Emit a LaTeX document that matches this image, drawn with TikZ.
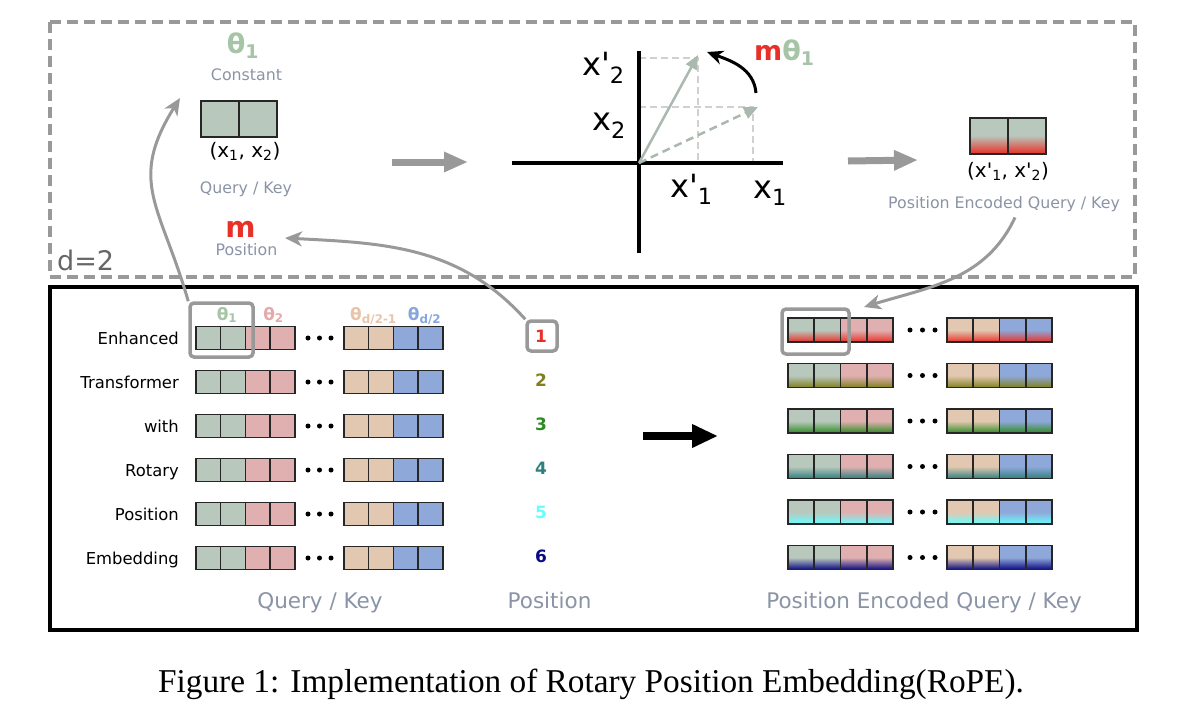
\documentclass[tikz,border=0pt]{standalone}
\usepackage{fontspec}
\setmainfont{DejaVu Sans}
\newfontfamily\axfont{DejaVu Sans}
\newfontfamily\capfont{Liberation Serif}
\usetikzlibrary{arrows.meta}

\definecolor{qkg}{RGB}{185,200,189}
\definecolor{qkp}{RGB}{224,176,176}
\definecolor{qkc}{RGB}{226,200,176}
\definecolor{qkb}{RGB}{143,168,218}
\definecolor{thg}{RGB}{166,196,166}
\definecolor{thp}{RGB}{228,170,170}
\definecolor{thc}{RGB}{234,196,168}
\definecolor{thb}{RGB}{136,166,222}
\definecolor{lblgray}{RGB}{138,148,166}
\definecolor{agray}{RGB}{153,153,153}
\definecolor{dgray}{RGB}{208,208,208}
\definecolor{mred}{RGB}{232,48,40}
\definecolor{pos1}{RGB}{232,48,40}
\definecolor{pos2}{RGB}{128,128,32}
\definecolor{pos3}{RGB}{46,139,34}
\definecolor{pos4}{RGB}{47,127,127}
\definecolor{pos5}{RGB}{102,255,255}
\definecolor{pos6}{RGB}{10,10,128}

\begin{document}
\begin{tikzpicture}[x=1pt, y=1pt,
	cell/.style={draw=black!85, line width=1.5pt, inner sep=0pt, minimum width=24.75pt, minimum height=23pt},
	rcell/.style={cell, minimum width=26.25pt, minimum height=24pt},
	bigcell/.style={cell, line width=2pt, minimum width=38pt, minimum height=36pt},
	hlbox/.style={draw=agray, line width=3.5pt, rounded corners=4pt, inner sep=0pt},
	garrow/.style={agray, line width=3pt, -{Stealth[length=17pt, width=15pt, inset=5pt]}},
	fatarrow/.style={line width=7pt, -{Triangle[length=24pt, width=19pt]}},
	toplbl/.style={text=lblgray, font=\fontsize{15.8}{18}\selectfont, anchor=base, inner sep=0pt},
	botlbl/.style={text=lblgray, font=\fontsize{21.5}{24}\selectfont, anchor=base, inner sep=0pt},
	rowlbl/.style={font=\fontsize{16.4}{19}\selectfont, anchor=base east, inner sep=0pt},
	posnum/.style={font=\fontsize{17}{19}\selectfont\bfseries, inner sep=0pt},
	thlbl/.style={font=\fontsize{17}{19}\selectfont\bfseries, anchor=base, inner sep=0pt},
	axlbl/.style={font=\axfont\fontsize{32}{36}\selectfont, anchor=base west, inner sep=0pt},
	guide/.style={dgray, line width=2.5pt, dash pattern=on 7pt off 4pt},
	vec/.style={qkg!92!black, line width=2.5pt, -{Triangle[length=14pt, width=12pt]}}
]
	\useasboundingbox (0,0) rectangle (1182,-718);

	\draw[agray, line width=4pt, dash pattern=on 11pt off 6pt] (50,-22) rectangle (1135,-277);
	\draw[line width=4pt] (50,-287) rectangle (1137,-630);
	\node[anchor=base west, inner sep=0pt, text=black!60, font=\fontsize{27}{30}\selectfont] (dlbl) at (57,-270) {d=2};

	\coordinate (O) at (639,-163);
	\coordinate (vR) at (698,-55);
	\coordinate (vD) at (758,-107);
	\coordinate (rotS) at (756,-93);
	\coordinate (rotE) at (707,-52);
	\coordinate (thIn) at (180,-98);
	\coordinate (mIn) at (285,-238);
	\coordinate (peIn) at (864,-307);
	\coordinate (a1s) at (392,-162);
	\coordinate (a1e) at (468,-162);
	\coordinate (a2s) at (848,-161);
	\coordinate (a2e) at (918,-160);
	\coordinate (a3s) at (643,-436);
	\coordinate (a3e) at (718,-436);

	\node[anchor=base, inner sep=0pt, text=thg, font=\fontsize{27}{30}\selectfont\bfseries] (th1) at (243,-53) {θ\textsubscript{1}};
	\node[toplbl] (cst) at (246.5,-80) {Constant};
	\node[bigcell, fill=qkg] (tq1) at (220,-119) {};
	\node[bigcell, fill=qkg] (tq2) at (258,-119) {};
	\node[anchor=base, inner sep=0pt, font=\fontsize{20}{24}\selectfont] (xx) at (245,-157) {(x\textsubscript{1}, x\textsubscript{2})};
	\node[toplbl] (qk) at (246,-193) {Query / Key};
	\node[anchor=base, inner sep=0pt, text=mred, font=\fontsize{29}{32}\selectfont\bfseries] (mm) at (240.5,-237) {m};
	\node[toplbl] (pos) at (246.5,-255) {Position};

	\draw[agray, fatarrow] (a1s) -- (a1e);
	\draw[agray, fatarrow] (a2s) -- (a2e);

	\draw[guide] (639,-58) -- (698,-58) -- (698,-163);
	\draw[guide] (639,-107) -- (753,-107) -- (753,-163);
	\draw[line width=4pt] (512,-163) -- (783,-163);
	\draw[line width=4pt] (639,-51) -- (639,-253);
	\draw[vec] (O) -- (vR);
	\draw[vec, dash pattern=on 8pt off 5pt] (O) -- (vD);
	\draw[line width=3pt, -{Stealth[length=16pt, width=14pt, inset=5pt]}] (rotS) to[out=95, in=-20] (rotE);
	\node[axlbl] (xp2) at (582,-75) {x'\textsubscript{2}};
	\node[axlbl] (x2) at (592,-130) {x\textsubscript{2}};
	\node[axlbl] (xp1) at (670,-197) {x'\textsubscript{1}};
	\node[axlbl] (x1) at (753,-198) {x\textsubscript{1}};
	\node[anchor=base west, inner sep=0pt, font=\fontsize{27}{30}\selectfont\bfseries] (mth) at (754,-60) {\color{mred}m\color{thg}θ\textsubscript{1}};

	\node[bigcell, top color=qkg, bottom color=pos1, middle color=qkg] (tp1) at (989,-135.5) {};
	\node[bigcell, top color=qkg, bottom color=pos1, middle color=qkg] (tp2) at (1027,-135.5) {};
	\node[anchor=base, inner sep=0pt, font=\axfont\fontsize{20}{24}\selectfont] (xxp) at (1008,-177) {(x'\textsubscript{1}, x'\textsubscript{2})};
	\node[toplbl] (pek) at (1004,-208) {Position Encoded Query / Key};

	\foreach \t/\ry in {Enhanced/338, Transformer/382, with/426, Rotary/470, Position/514, Embedding/558}
		\node[rowlbl] (rl-\t) at (179,-\ry-6.5) {\t};

	\foreach \ry [count=\r] in {338,382,426,470,514,558}{
		\foreach \cx/\cc [count=\i] in {208.4/qkg,233.1/qkg,257.9/qkp,282.6/qkp,356.4/qkc,381.1/qkc,405.9/qkb,430.6/qkb}
			\node[cell, fill=\cc] (q\r-\i) at (\cx,-\ry) {};
		\foreach \dx in {308,319.5,331}
			\fill (\dx,-\ry) circle (2.5);
	}
	\node[thlbl, text=thg] (t1) at (227,-320) {θ\textsubscript{1}};
	\node[thlbl, text=thp] (t2) at (273.5,-320) {θ\textsubscript{2}};
	\node[thlbl, text=thc] (t3) at (373.5,-320) {θ\textsubscript{d/2-1}};
	\node[thlbl, text=thb] (t4) at (424.5,-320) {θ\textsubscript{d/2}};
	\node[hlbox, minimum width=63pt, minimum height=54pt] (hlL) at (221.5,-330) {};

	\foreach \n/\ry in {1/338,2/382,3/426,4/470,5/514,6/558}
		\node[posnum, text=pos\n] (p\n) at (541,-\ry+1.5) {\n};
	\node[hlbox, minimum size=30pt] (hl1) at (542,-336) {};

	\draw[fatarrow, line width=8pt, -{Triangle[length=26pt, width=22pt]}] (a3s) -- (a3e);

	\foreach \ry/\rc [count=\r] in {330/pos1,375.5/pos2,421/pos3,466.5/pos4,512/pos5,557.5/pos6}{
		\foreach \cx/\cc [count=\i] in {801.1/qkg,827.4/qkg,853.6/qkp,879.9/qkp,960.1/qkc,986.4/qkc,1012.6/qkb,1038.9/qkb}
			\node[rcell, top color=\cc, bottom color=\rc, middle color=\cc] (e\r-\i) at (\cx,-\ry) {};
		\foreach \dx in {910,922.5,935}
			\fill (\dx,-\ry) circle (2.5);
	}
	\node[hlbox, minimum width=67pt, minimum height=45pt] (hlR) at (815.5,-331.5) {};

	\node[botlbl] (bqk) at (320,-608) {Query / Key};
	\node[botlbl] (bpos) at (549.5,-608) {Position};
	\node[botlbl] (bpek) at (924,-608) {Position Encoded Query / Key};

	\draw[garrow] (hlL.north west) to[out=106, in=238, looseness=1.25] (thIn);
	\draw[garrow] (hl1.north west) to[out=132, in=-3] (mIn);
	\draw[garrow] ([xshift=11pt]pek.south) ++(0,-6) to[out=245, in=17] (peIn);

	\node[anchor=base, inner sep=0pt, font=\capfont\fontsize{33.3}{37}\selectfont] (cap) at (591,-692) {Figure 1: Implementation of Rotary Position Embedding(RoPE).};
\end{tikzpicture}
\end{document}
